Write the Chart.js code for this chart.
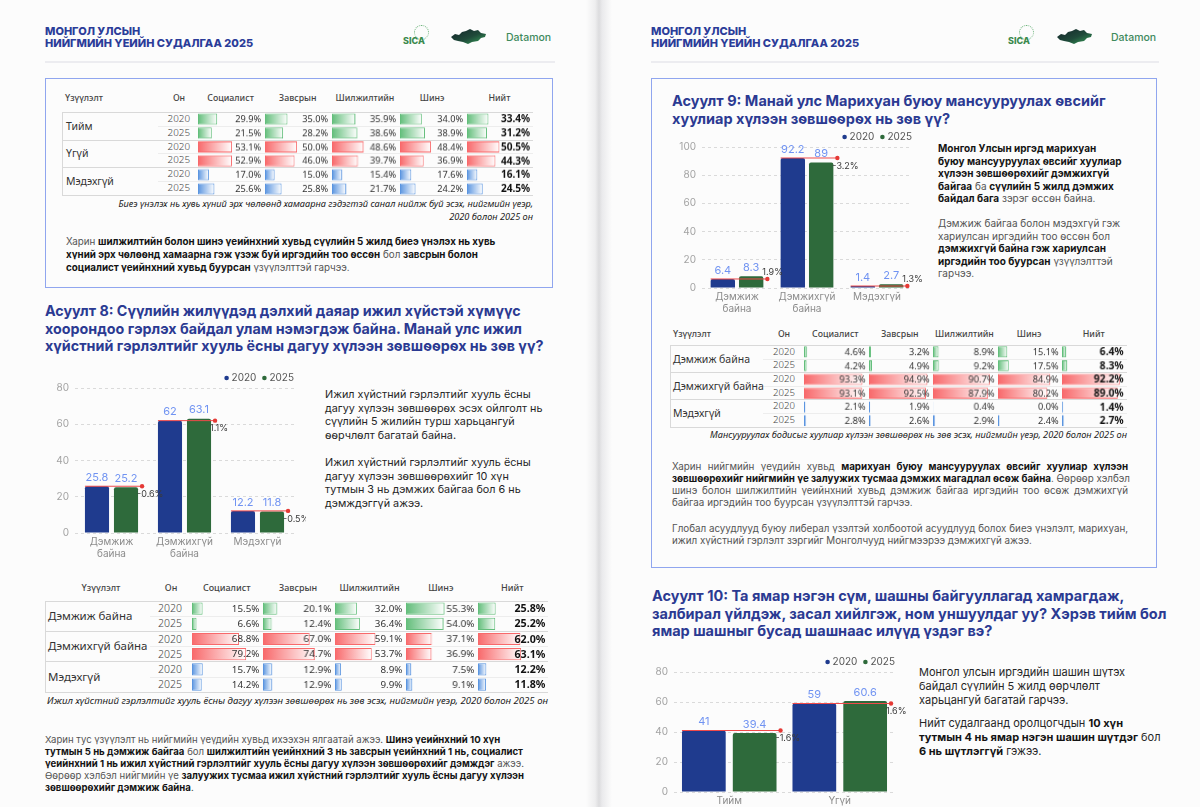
<!DOCTYPE html>
<html lang="mn">
<head>
<meta charset="utf-8">
<title>Монгол Улсын нийгмийн үеийн судалгаа 2025</title>
<script src="https://cdn.jsdelivr.net/npm/chart.js@4.4.1/dist/chart.umd.min.js"></script>
<style>
  html, body { margin: 0; padding: 0; }
  body {
    position: relative; width: 1200px; height: 807px; overflow: hidden;
    background: #fcfcfc; font-family: Inter, "Noto Sans", sans-serif; color: #222;
  }
  .abs { position: absolute; white-space: nowrap; }
  .gutter { left: 586px; top: 0; width: 26px; height: 807px;
    background: linear-gradient(to right, #fcfcfc 0%, #eeeeef 35%, #dcdcde 50%, #eaeaec 62%, #fcfcfc 100%); }
  .hdr { font-size: 11px; line-height: 11.5px; font-weight: 800; color: #2b3c99; }
  .rule { height: 2px; background: #ececf0; }
  .box { border: 1.5px solid #90a6ef; box-sizing: border-box; }
  .q { font-size: 14.3px; line-height: 17.5px; font-weight: 700; color: #2b3a92; }
  .txt { font-size: 9.8px; line-height: 12px; color: #555; }
  .txt b, .side b { color: #141414; font-weight: 700; }
  .side { font-size: 10.8px; line-height: 13.6px; color: #262626; }
  .cap { font-family: "Noto Sans", sans-serif; font-style: italic; font-size: 9.2px; color: #222; text-align: right; }
  .jl { display: block; width: 456px; text-align: justify; text-align-last: justify; }
  .chartbox { position: absolute; }
  .tline { position: absolute; }
  .ttext { position: absolute; white-space: nowrap; font-family: "Noto Sans", sans-serif; }
  .datamon { font-size: 10.5px; font-weight: 500; color: #3f8a5c; }
  .sica { font-size: 9px; font-weight: 800; color: #3b8a4e; }
</style>
</head>
<body>

<div class="abs gutter"></div>

<!-- left page -->
<div class="abs hdr" style="left:45px;top:26px;">МОНГОЛ УЛСЫН<br>НИЙГМИЙН ҮЕИЙН СУДАЛГАА 2025</div>
<div class="abs" style="left:414px;top:25px;width:13px;height:13px;border:1px dotted #6bb37a;border-radius:50%;"></div>
<div class="abs sica" style="left:403px;top:35px;">SICA</div>
<svg class="abs" style="left:450px;top:28px;" width="38" height="18" viewBox="0 0 38 18">
  <defs><linearGradient id="mapL" x1="0" y1="0" x2="1" y2="1"><stop offset="0" stop-color="#14242a"/><stop offset="0.55" stop-color="#1f4a3a"/><stop offset="1" stop-color="#39a35a"/></linearGradient></defs>
  <path d="M1,9 L5,6 L9,7 L12,4 L16,3 L20,1 L24,3 L28,2 L31,5 L36,6 L35,9 L31,10 L28,13 L22,14 L18,16 L13,14 L8,13 L4,12 Z" fill="url(#mapL)"/>
</svg>
<div class="abs datamon" style="left:506px;top:31px;">Datamon</div>
<div class="abs rule" style="left:45px;top:61px;width:510px;"></div>

<div class="abs box" style="left:45px;top:78px;width:508px;height:210px;"></div>
<div class="abs cap" style="right:667px;top:196.5px;line-height:13.4px;">Биеэ үнэлэх нь хувь хүний эрх чөлөөнд хамаарна гэдэгтэй санал нийлж буй эсэх, нийгмийн үеэр,<br>2020 болон 2025 он</div>
<div class="abs txt" style="left:66px;top:234.5px;line-height:13px;">Харин <b>шилжилтийн болон шинэ үеийнхний хувьд сүүлийн 5 жилд биеэ үнэлэх нь хувь</b><br><b>хүний эрх чөлөөнд хамаарна гэж үзэж буй иргэдийн тоо өссөн</b> бол <b>завсрын болон</b><br><b>социалист үеийнхний хувьд буурсан</b> үзүүлэлттэй гарчээ.</div>

<div class="abs q" style="left:45px;top:302px;">Асуулт 8: Сүүлийн жилүүдэд дэлхий даяар ижил хүйстэй хүмүүс<br>хоорондоо гэрлэх байдал улам нэмэгдэж байна. Манай улс ижил<br>хүйстний гэрлэлтийг хууль ёсны дагуу хүлээн зөвшөөрөх нь зөв үү?</div>

<div class="chartbox" style="left:40px;top:368px;width:266px;height:200px;"><canvas id="q8Chart"></canvas></div>
<div class="abs side" style="left:325px;top:388px;">Ижил хүйстний гэрлэлтийг хууль ёсны<br>дагуу хүлээн зөвшөөрөх эсэх ойлголт нь<br>сүүлийн 5 жилийн турш харьцангуй<br>өөрчлөлт багатай байна.<br><br>Ижил хүйстний гэрлэлтийг хууль ёсны<br>дагуу хүлээн зөвшөөрөхийг 10 хүн<br>тутмын 3 нь дэмжих байгаа бол 6 нь<br>дэмждэггүй ажээ.</div>

<div class="abs cap" style="right:652px;top:694px;line-height:14px;font-size:9.6px;">Ижил хүйстний гэрлэлтийг хууль ёсны дагуу хүлээн зөвшөөрөх нь зөв эсэх, нийгмийн үеэр, 2020 болон 2025 он</div>

<div class="abs txt" style="left:45px;top:734px;line-height:12px;font-size:9.6px;">Харин тус үзүүлэлт нь нийгмийн үеүдийн хувьд ихээхэн ялгаатай ажээ. <b>Шинэ үеийнхний 10 хүн</b><br><b>тутмын 5 нь дэмжиж байгаа</b> бол <b>шилжилтийн үеийнхний 3 нь завсрын үеийнхний 1 нь, социалист</b><br><b>үеийнхний 1 нь ижил хүйстний гэрлэлтийг хууль ёсны дагуу хүлээн зөвшөөрөхийг дэмждэг</b> ажээ.<br>Өөрөөр хэлбэл нийгмийн үе <b>залуужих тусмаа ижил хүйстний гэрлэлтийг хууль ёсны дагуу хүлээн</b><br><b>зөвшөөрөхийг дэмжиж байна</b>.</div>

<!-- right page -->
<div class="abs hdr" style="left:651px;top:26px;">МОНГОЛ УЛСЫН<br>НИЙГМИЙН ҮЕИЙН СУДАЛГАА 2025</div>
<div class="abs" style="left:1019px;top:25px;width:13px;height:13px;border:1px dotted #6bb37a;border-radius:50%;"></div>
<div class="abs sica" style="left:1008px;top:35px;">SICA</div>
<svg class="abs" style="left:1056px;top:28px;" width="38" height="18" viewBox="0 0 38 18">
  <defs><linearGradient id="mapR" x1="0" y1="0" x2="1" y2="1"><stop offset="0" stop-color="#14242a"/><stop offset="0.55" stop-color="#1f4a3a"/><stop offset="1" stop-color="#39a35a"/></linearGradient></defs>
  <path d="M1,9 L5,6 L9,7 L12,4 L16,3 L20,1 L24,3 L28,2 L31,5 L36,6 L35,9 L31,10 L28,13 L22,14 L18,16 L13,14 L8,13 L4,12 Z" fill="url(#mapR)"/>
</svg>
<div class="abs datamon" style="left:1111px;top:31px;">Datamon</div>
<div class="abs rule" style="left:651px;top:61px;width:508px;"></div>

<div class="abs box" style="left:651px;top:78px;width:506px;height:490px;"></div>
<div class="abs q" style="left:672px;top:92px;font-size:14.5px;">Асуулт 9: Манай улс Марихуан буюу мансууруулах өвсийг<br>хуулиар хүлээн зөвшөөрөх нь зөв үү?</div>
<div class="chartbox" style="left:667px;top:127px;width:257px;height:196px;"><canvas id="q9Chart"></canvas></div>
<div class="abs txt" style="left:938px;top:142px;line-height:12.5px;font-size:10px;"><b>Монгол Улсын иргэд марихуан</b><br><b>буюу мансууруулах өвсийг хуулиар</b><br><b>хүлээн зөвшөөрөхийг дэмжихгүй</b><br><b>байгаа</b> ба <b>сүүлийн 5 жилд дэмжих</b><br><b>байдал бага</b> зэрэг өссөн байна.<br><br>Дэмжиж байгаа болон мэдэхгүй гэж<br>хариулсан иргэдийн тоо өссөн бол<br><b>дэмжихгүй байна гэж хариулсан</b><br><b>иргэдийн тоо буурсан</b> үзүүлэлттэй<br>гарчээ.</div>
<div class="abs cap" style="right:73px;top:428px;line-height:14px;">Мансууруулах бодисыг хуулиар хүлээн зөвшөөрөх нь зөв эсэх, нийгмийн үеэр, 2020 болон 2025 он</div>
<div class="abs txt" style="left:672px;top:461px;line-height:12px;">
  <span class="jl">Харин нийгмийн үеүдийн хувьд <b>марихуан буюу мансууруулах өвсийг хуулиар хүлээн</b></span>
  <span class="jl"><b>зөвшөөрөхийг нийгмийн үе залуужих тусмаа дэмжих магадлал өсөж байна</b>. Өөрөөр хэлбэл</span>
  <span class="jl">шинэ болон шилжилтийн үеийнхний хувьд дэмжиж байгаа иргэдийн тоо өсөж дэмжихгүй</span>
  <span style="display:block;">байгаа иргэдийн тоо буурсан үзүүлэлттэй гарчээ.</span>
</div>
<div class="abs txt" style="left:672px;top:523px;line-height:12px;">
  <span class="jl">Глобал асуудлууд буюу либерал үзэлтэй холбоотой асуудлууд болох биеэ үнэлэлт, марихуан,</span>
  <span style="display:block;">ижил хүйстний гэрлэлт зэргийг Монголчууд нийгмээрээ дэмжихгүй ажээ.</span>
</div>

<div class="abs q" style="left:652px;top:587px;font-size:14.5px;">Асуулт 10: Та ямар нэгэн сүм, шашны байгууллагад хамрагдаж,<br>залбирал үйлдэж, засал хийлгэж, ном уншуулдаг уу? Хэрэв тийм бол<br>ямар шашныг бусад шашнаас илүүд үздэг вэ?</div>
<div class="chartbox" style="left:639px;top:652px;width:268px;height:175px;"><canvas id="q10Chart"></canvas></div>
<div class="abs side" style="left:919px;top:665px;line-height:14px;font-size:11px;">Монгол улсын иргэдийн шашин шүтэх<br>байдал сүүлийн 5 жилд өөрчлөлт<br>харьцангуй багатай гарчээ.</div>
<div class="abs side" style="left:919px;top:716px;line-height:14px;font-size:11px;">Нийт судалгаанд оролцогчдын <b>10 хүн</b><br><b>тутмын 4 нь ямар нэгэн шашин шүтдэг</b> бол<br><b>6 нь шүтлэггүй</b> гэжээ.</div>

<script>
// ---- chart data ----
const seriesYears = ['2020', '2025'];

const q8Categories = [['Дэмжиж', 'байна'], ['Дэмжихгүй', 'байна'], 'Мэдэхгүй'];
const q8Values2020 = [25.8, 62, 12.2];
const q8Values2025 = [25.2, 63.1, 11.8];
const q8Changes = ['-0.6%', '1.1%', '-0.5%'];
const q8Ticks = [0, 20, 40, 60, 80];

const q9Categories = [['Дэмжиж', 'байна'], ['Дэмжихгүй', 'байна'], 'Мэдэхгүй'];
const q9Values2020 = [6.4, 92.2, 1.4];
const q9Values2025 = [8.3, 89, 2.7];
const q9Changes = ['1.9%', '-3.2%', '1.3%'];
const q9Ticks = [0, 20, 40, 60, 80, 100];

const q10Categories = ['Тийм', 'Үгүй'];
const q10Values2020 = [41, 59];
const q10Values2025 = [39.4, 60.6];
const q10Changes = ['-1.6%', '1.6%'];
const q10Ticks = [0, 20, 40, 60, 80];

// ---- table data (rows: group x 2020/2025) ----
const tableColumns = ['Социалист', 'Завсрын', 'Шилжилтийн', 'Шинэ', 'Нийт'];
const tableRowYears = ['2020', '2025', '2020', '2025', '2020', '2025'];

const t7Groups = ['Тийм', 'Үгүй', 'Мэдэхгүй'];
const t7Socialist = [29.9, 21.5, 53.1, 52.9, 17.0, 25.6];
const t7Zavsryn = [35.0, 28.2, 50.0, 46.0, 15.0, 25.8];
const t7Shiljilt = [35.9, 38.6, 48.6, 39.7, 15.4, 21.7];
const t7Shine = [34.0, 38.9, 48.4, 36.9, 17.6, 24.2];
const t7Total = [33.4, 31.2, 50.5, 44.3, 16.1, 24.5];

const t8Groups = ['Дэмжиж байна', 'Дэмжихгүй байна', 'Мэдэхгүй'];
const t8Socialist = [15.5, 6.6, 68.8, 79.2, 15.7, 14.2];
const t8Zavsryn = [20.1, 12.4, 67.0, 74.7, 12.9, 12.9];
const t8Shiljilt = [32.0, 36.4, 59.1, 53.7, 8.9, 9.9];
const t8Shine = [55.3, 54.0, 37.1, 36.9, 7.5, 9.1];
const t8Total = [25.8, 25.2, 62.0, 63.1, 12.2, 11.8];

const t9Groups = ['Дэмжиж байна', 'Дэмжихгүй байна', 'Мэдэхгүй'];
const t9Socialist = [4.6, 4.2, 93.3, 93.1, 2.1, 2.8];
const t9Zavsryn = [3.2, 4.9, 94.9, 92.5, 1.9, 2.6];
const t9Shiljilt = [8.9, 9.2, 90.7, 87.9, 0.4, 2.9];
const t9Shine = [15.1, 17.5, 84.9, 80.2, 0.0, 2.4];
const t9Total = [6.4, 8.3, 92.2, 89.0, 1.4, 2.7];

// ---- styles ----
const navy = '#1f3b8e';
const green = '#2e6a3b';
const groupFills = ['#63be7b', '#f8696b', '#5b95e0'];

Chart.defaults.font.family = 'Inter';

// red reference line, dot, change label, value labels and legend
const changeMarks = {
  id: 'changeMarks',
  afterDatasetsDraw(chart, args, opts) {
    const { ctx, chartArea } = chart;
    const m0 = chart.getDatasetMeta(0);
    const m1 = chart.getDatasetMeta(1);
    ctx.save();

    ctx.font = '400 11px Inter';
    ctx.fillStyle = '#7093f2';
    ctx.textAlign = 'center';
    ctx.textBaseline = 'bottom';
    [m0, m1].forEach((meta, di) => {
      meta.data.forEach((bar, i) => {
        ctx.fillText(String(chart.data.datasets[di].data[i]), bar.x, bar.y - 3);
      });
    });

    m0.data.forEach((bar, i) => {
      const other = m1.data[i];
      const xStart = bar.x - bar.width / 2;
      const xEnd = other.x + other.width / 2 + 4;
      const y = bar.y;
      ctx.strokeStyle = '#ef4a4a';
      ctx.lineWidth = 1;
      ctx.beginPath();
      ctx.moveTo(xStart, y);
      ctx.lineTo(xEnd, y);
      ctx.stroke();
      ctx.fillStyle = '#e53935';
      ctx.beginPath();
      ctx.arc(xEnd, y, 2.2, 0, Math.PI * 2);
      ctx.fill();

      ctx.font = '400 9px Inter';
      ctx.fillStyle = '#3a3a3a';
      ctx.textAlign = 'left';
      ctx.textBaseline = 'middle';
      const above = chartArea.bottom - y < 15;
      ctx.fillText(opts.changes[i], xEnd - 5, above ? y - 7 : y + 8);
    });

    // legend
    const ly = chartArea.top - 10;
    ctx.font = '400 10px Inter';
    ctx.textAlign = 'left';
    ctx.textBaseline = 'middle';
    let x = chartArea.right - ctx.measureText(seriesYears[1]).width;
    ctx.fillStyle = '#555';
    ctx.fillText(seriesYears[1], x, ly);
    ctx.fillStyle = green;
    ctx.beginPath();
    ctx.arc(x - 5, ly, 2.3, 0, Math.PI * 2);
    ctx.fill();
    x = x - 13 - ctx.measureText(seriesYears[0]).width;
    ctx.fillStyle = '#555';
    ctx.fillText(seriesYears[0], x, ly);
    ctx.fillStyle = navy;
    ctx.beginPath();
    ctx.arc(x - 5, ly, 2.3, 0, Math.PI * 2);
    ctx.fill();

    ctx.restore();
  }
};

function makeBarChart(id, categories, v2020, v2025, changes, ticks, fit) {
  return new Chart(document.getElementById(id), {
    type: 'bar',
    data: {
      labels: categories,
      datasets: [
        { label: seriesYears[0], data: v2020, backgroundColor: navy },
        { label: seriesYears[1], data: v2025, backgroundColor: green }
      ]
    },
    options: {
      responsive: true,
      maintainAspectRatio: false,
      animation: false,
      events: [],
      layout: { padding: { top: 20, right: 12, left: 0, bottom: fit.bottom } },
      datasets: {
        bar: {
          categoryPercentage: fit.cat,
          barPercentage: fit.bar,
          borderRadius: { topLeft: 2, topRight: 2 },
          borderSkipped: 'start'
        }
      },
      plugins: {
        legend: { display: false },
        tooltip: { enabled: false },
        changeMarks: { changes: changes }
      },
      scales: {
        x: {
          grid: { display: false, drawTicks: false },
          border: { display: false },
          ticks: { color: '#8c8c8c', font: { size: 10, lineHeight: 1.2 }, padding: 3 },
          afterFit: (s) => { s.height = 30; }
        },
        y: {
          min: ticks[0],
          max: ticks[ticks.length - 1],
          grid: { color: '#dadada', drawTicks: false },
          border: { display: false, dash: [3, 3] },
          ticks: { stepSize: ticks[1] - ticks[0], color: '#a3a3a3', font: { size: 10 }, padding: 6 },
          afterFit: (s) => { s.width = 35; }
        }
      }
    },
    plugins: [changeMarks]
  });
}

// ---- tables: text as html, data bars as small horizontal bar charts ----
const cellValues = {
  id: 'cellValues',
  afterDatasetsDraw(chart, args, opts) {
    const { ctx, chartArea } = chart;
    const meta = chart.getDatasetMeta(0);
    ctx.save();
    ctx.font = (opts.bold ? '700 ' : '400 ') + (opts.bold ? opts.size + 0.9 : opts.size) + 'px "Noto Sans"';
    ctx.fillStyle = opts.bold ? '#111' : '#333';
    ctx.textAlign = 'right';
    ctx.textBaseline = 'middle';
    meta.data.forEach((bar, i) => {
      ctx.fillText(chart.data.datasets[0].data[i].toFixed(1) + '%', chartArea.right - 1, bar.y + 0.5);
    });
    ctx.restore();
  }
};

function barFill(c) {
  const chart = c.chart;
  const color = groupFills[Math.floor(c.dataIndex / 2)];
  if (!chart.chartArea || !chart.scales.x) return color;
  const x0 = chart.scales.x.getPixelForValue(0);
  const x1 = Math.max(chart.scales.x.getPixelForValue(c.raw), x0 + 2);
  const g = chart.ctx.createLinearGradient(x0, 0, x1, 0);
  g.addColorStop(0, color);
  g.addColorStop(1, '#ffffff');
  return g;
}

function makeCellChart(canvas, values, bold, size) {
  return new Chart(canvas, {
    type: 'bar',
    data: {
      labels: tableRowYears,
      datasets: [{
        data: values,
        backgroundColor: barFill,
        borderColor: (c) => groupFills[Math.floor(c.dataIndex / 2)],
        borderWidth: 1,
        borderSkipped: false,
        barPercentage: 0.8,
        categoryPercentage: 1
      }]
    },
    options: {
      indexAxis: 'y',
      responsive: true,
      maintainAspectRatio: false,
      animation: false,
      events: [],
      layout: { padding: 0 },
      plugins: { legend: { display: false }, tooltip: { enabled: false }, cellValues: { bold: bold, size: size } },
      scales: { x: { display: false, min: 0, max: 100 }, y: { display: false } }
    },
    plugins: [cellValues]
  });
}

function addText(text, x, y, o) {
  const d = document.createElement('div');
  d.className = 'ttext';
  const w = o.w || 120;
  let left = x;
  if (o.align === 'right') left = x - w;
  if (o.align === 'center') left = x - w / 2;
  Object.assign(d.style, {
    left: left + 'px', top: (y - 8) + 'px', width: w + 'px', height: '16px', lineHeight: '16px',
    textAlign: o.align || 'left', fontSize: o.size + 'px', fontWeight: o.weight || 400, color: o.color || '#333'
  });
  d.textContent = text;
  document.body.appendChild(d);
}

function addLine(x1, x2, y, color) {
  const d = document.createElement('div');
  d.className = 'tline';
  Object.assign(d.style, { left: x1 + 'px', top: y + 'px', width: (x2 - x1) + 'px', height: '1px', background: color });
  document.body.appendChild(d);
}

function addVLine(x, y1, y2, color) {
  const d = document.createElement('div');
  d.className = 'tline';
  Object.assign(d.style, { left: x + 'px', top: y1 + 'px', width: '1px', height: (y2 - y1) + 'px', background: color });
  document.body.appendChild(d);
}

function buildTable(groups, columns, L) {
  const head = { size: L.headSize, weight: 500, color: '#444' };
  addText('Үзүүлэлт', L.headX, L.headerY, Object.assign({ align: L.headAlign, w: 110 }, head));
  addText('Он', L.yearRight - 11, L.headerY, Object.assign({ align: 'center', w: 40 }, head));
  tableColumns.forEach((name, c) => {
    addText(name, L.cellLeft + (c + 0.5) * L.cellW, L.headerY, Object.assign({ align: 'center', w: L.cellW }, head));
  });
  const bottom = L.rowTop + 6 * L.rowH;
  const yearLeft = L.yearRight - 32;
  groups.forEach((g, gi) => {
    const top = L.rowTop + gi * 2 * L.rowH;
    addLine(L.left, L.right, top, '#d9d9d9');
    addLine(yearLeft, L.right, top + L.rowH, '#ededed');
    addText(g, L.labelX, top + L.rowH, { size: L.labelSize, color: '#333', w: 130 });
  });
  addLine(L.left, L.right, bottom, '#d9d9d9');
  addVLine(L.left, L.rowTop, bottom, '#d9d9d9');
  tableRowYears.forEach((yr, r) => {
    addText(yr, L.yearRight, L.rowTop + (r + 0.5) * L.rowH, { size: L.yearSize, color: '#444', align: 'right', w: 40, weight: 300 });
  });
  columns.forEach((vals, c) => {
    const box = document.createElement('div');
    box.className = 'chartbox';
    Object.assign(box.style, {
      left: (L.cellLeft + c * L.cellW + 1) + 'px', top: L.rowTop + 'px',
      width: (L.cellW - 3) + 'px', height: (6 * L.rowH) + 'px'
    });
    const cv = document.createElement('canvas');
    box.appendChild(cv);
    document.body.appendChild(box);
    makeCellChart(cv, vals, c === columns.length - 1, L.valSize);
  });
}

buildTable(t7Groups, [t7Socialist, t7Zavsryn, t7Shiljilt, t7Shine, t7Total], {
  left: 62, labelX: 66, headX: 65, headAlign: 'left', right: 533, headerY: 98,
  rowTop: 112, rowH: 13.8, yearRight: 190, cellLeft: 197, cellW: 67.2,
  labelSize: 10.5, yearSize: 9.8, valSize: 9.2, headSize: 8.8
});

buildTable(t8Groups, [t8Socialist, t8Zavsryn, t8Shiljilt, t8Shine, t8Total], {
  left: 45, labelX: 48, headX: 101, headAlign: 'center', right: 548, headerY: 588,
  rowTop: 600.5, rowH: 15.2, yearRight: 182, cellLeft: 191, cellW: 71.4,
  labelSize: 11.5, yearSize: 10.5, valSize: 9.8, headSize: 9
});

buildTable(t9Groups, [t9Socialist, t9Zavsryn, t9Shiljilt, t9Shine, t9Total], {
  left: 670, labelX: 673, headX: 673, headAlign: 'left', right: 1127, headerY: 334,
  rowTop: 345, rowH: 13.6, yearRight: 795, cellLeft: 803, cellW: 64.6,
  labelSize: 10.5, yearSize: 9.6, valSize: 9.2, headSize: 8.8
});

makeBarChart('q8Chart', q8Categories, q8Values2020, q8Values2025, q8Changes, q8Ticks, { cat: 0.795, bar: 0.83, bottom: 5 });
makeBarChart('q9Chart', q9Categories, q9Values2020, q9Values2025, q9Changes, q9Ticks, { cat: 0.81, bar: 0.86, bottom: 5 });
makeBarChart('q10Chart', q10Categories, q10Values2020, q10Values2025, q10Changes, q10Ticks, { cat: 0.92, bar: 0.86, bottom: 5 });
</script>
</body>
</html>
